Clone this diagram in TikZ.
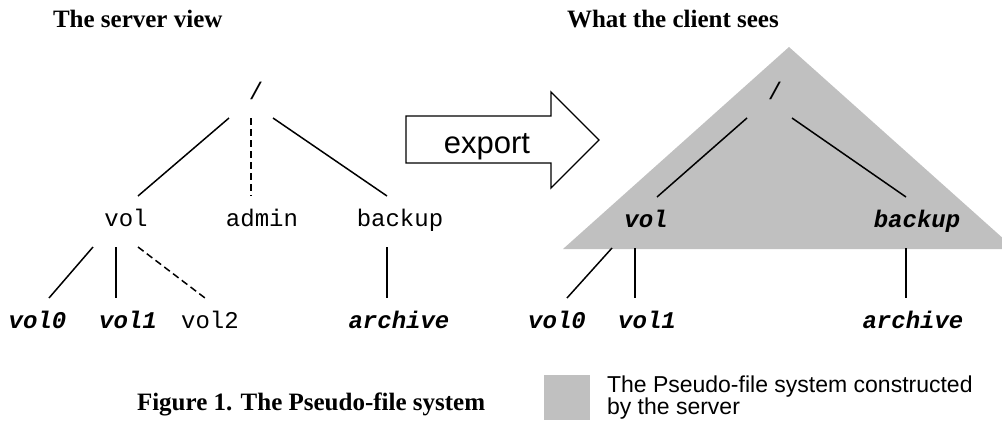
\documentclass[tikz,border=0pt]{standalone}
\usepackage{fontspec}
\setmainfont{Liberation Serif}
\newfontfamily\arialfont{Liberation Sans}
\newfontfamily\courierfont{Liberation Mono}
\usepackage{tikz}
\definecolor{pgray}{RGB}{192,192,192}
\tikzset{
  dirname/.style={font=\courierfont\fontsize{24}{24}\selectfont, text height=30pt, text depth=21pt, anchor=base},
  expname/.style={dirname, font=\courierfont\fontsize{24}{24}\selectfont\bfseries\itshape},
  heading/.style={font=\fontsize{25}{30}\selectfont\bfseries, anchor=base west},
  branch/.style={line width=1.5pt},
  hidden/.style={branch, dash pattern=on 7pt off 4pt},
}

\begin{document}
\begin{tikzpicture}[y=1pt, x=1pt, yscale=-1, inner sep=0pt, outer sep=0pt]
\useasboundingbox (0,0) rectangle (1002,426);

% pseudo-file system
\fill[pgray] (789,47) -- (1002,237.4) -- (1002,249) -- (563,249) -- cycle;

% headings
\node[heading] (srvtitle) at (53,27) {The server view};
\node[heading] (clttitle) at (567,27) {What the client sees};

% server tree
\node[dirname, text depth=19pt] (sroot) at (256,99) {/};
\node[dirname] (svol)     at (126,226) {vol};
\node[dirname] (sadmin)   at (262,226) {admin};
\node[dirname] (sbackup)  at (400,226) {backup};
\node[expname] (svol0)    at (37.5,328) {vol0};
\node[expname] (svol1)    at (128,328) {vol1};
\node[dirname] (svol2)    at (210,328) {vol2};
\node[expname] (sarchive) at (399,328) {archive};

\draw[branch] ([xshift=-27pt]sroot.south) -- ([xshift=12pt]svol.north);
\draw[hidden] ([xshift=-5pt]sroot.south)  -- ([xshift=-11pt]sadmin.north);
\draw[branch] ([xshift=17pt]sroot.south)  -- ([xshift=-13pt]sbackup.north);
\draw[branch] ([xshift=-33pt]svol.south)  -- ([xshift=11.5pt]svol0.north);
\draw[branch] ([xshift=-10pt]svol.south)  -- ([xshift=-12pt]svol1.north);
\draw[hidden] ([xshift=12pt]svol.south)   -- ([xshift=-5pt]svol2.north);
\draw[branch] ([xshift=-13pt]sbackup.south) -- ([xshift=-12pt]sarchive.north);

% export arrow
\draw[line width=1.4pt, fill=white] (406,116) -- (551,116) -- (551,92) -- (599,140)
  -- (551,188) -- (551,163) -- (406,163) -- cycle;
\node[font=\arialfont\fontsize{31}{31}\selectfont, anchor=base] (export) at (487,153) {export};

% client tree
\node[dirname, text depth=19pt] (croot) at (775,99) {/};
\node[expname] (cvol)     at (646,227) {vol};
\node[expname] (cbackup)  at (917,227) {backup};
\node[expname] (cvol0)    at (557,328) {vol0};
\node[expname] (cvol1)    at (647,328) {vol1};
\node[expname] (carchive) at (913,328) {archive};

\draw[branch] ([xshift=-28pt]croot.south) -- ([xshift=11pt]cvol.north);
\draw[branch] ([xshift=17pt]croot.south)  -- ([xshift=-11pt]cbackup.north);
\draw[branch] ([xshift=-34pt]cvol.south)  -- ([xshift=10pt]cvol0.north);
\draw[branch] ([xshift=-11pt]cvol.south)  -- ([xshift=-12pt]cvol1.north);
\draw[branch] ([xshift=-11pt]cbackup.south) -- ([xshift=-7pt]carchive.north);

% caption and legend
\node[heading] (caption) at (137,410) {Figure 1. The Pseudo-file system};
\node[fill=pgray, minimum width=46pt, minimum height=45pt] (legbox) at (567,397.5) {};
\node[font=\arialfont\fontsize{23}{22}\selectfont, align=left, anchor=west] (legtext)
  at (607,398) {The Pseudo-file system constructed\\by the server};

\end{tikzpicture}
\end{document}
